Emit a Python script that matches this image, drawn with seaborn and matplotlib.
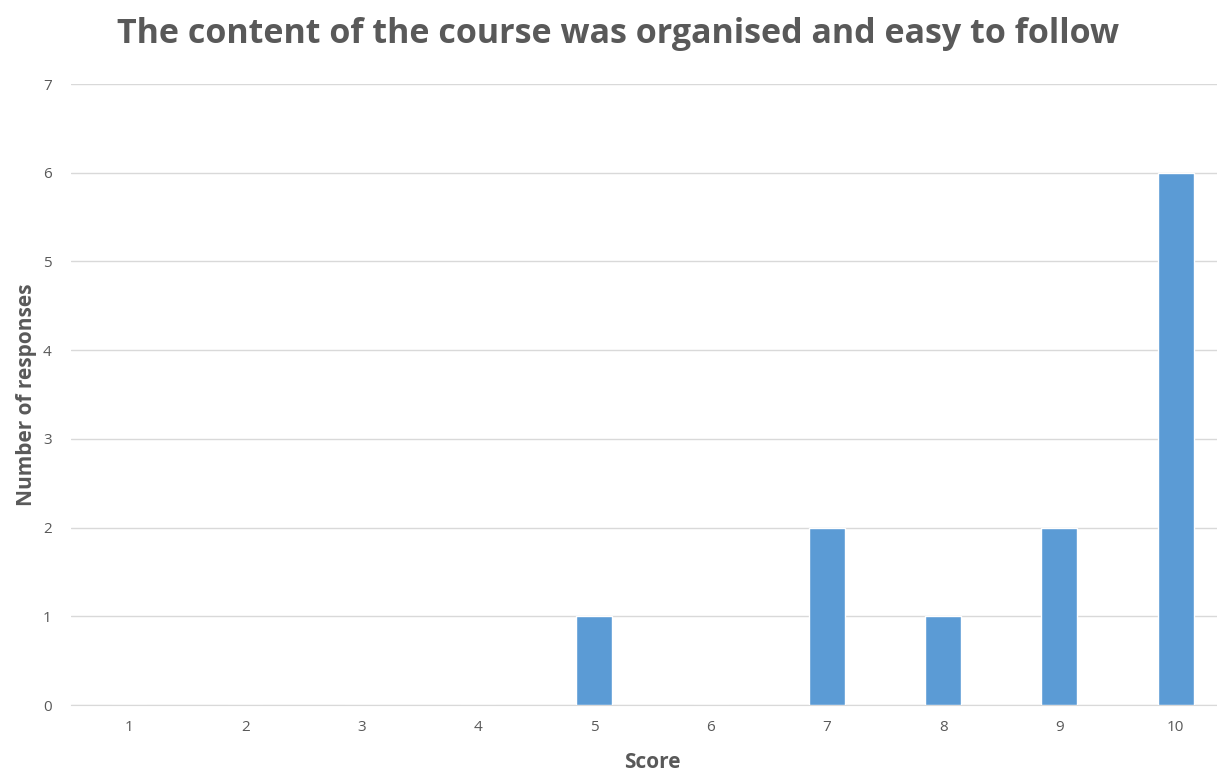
import matplotlib
matplotlib.use("Agg")
import matplotlib.pyplot as plt
import seaborn as sns
import pandas as pd

scores = ["1", "2", "3", "4", "5", "6", "7", "8", "9", "10"]
responses = [0, 0, 0, 0, 1, 0, 2, 1, 2, 6]

sns.set_style("white")
plt.rcParams["font.family"] = ["Open Sans", "DejaVu Sans"]

df = pd.DataFrame({"score": scores, "responses": responses})

fig = plt.figure(figsize=(12.17, 7.75), dpi=100)
ax = fig.add_axes([0.0583, 0.0903, 0.9556, 0.8013])

sns.barplot(data=df, x="score", y="responses", color="#5B9BD5", width=0.31,
            saturation=1, ax=ax, zorder=3)

ax.set_ylim(0, 7)
ax.set_yticks(range(0, 8))
ax.yaxis.grid(True, color="#D9D9D9", linewidth=1, zorder=0)
ax.xaxis.grid(False)
for s in ["top", "right", "left"]:
    ax.spines[s].set_visible(False)
ax.spines["bottom"].set_color("#D9D9D9")
ax.tick_params(axis="both", length=0, labelsize=11, colors="#595959", pad=11)
ax.tick_params(axis="y", pad=14)

ax.set_xlabel("Score", fontsize=15, fontweight="bold", color="#595959", labelpad=12)
ax.set_ylabel("Number of responses", fontsize=15, fontweight="bold", color="#595959", labelpad=4)
fig.text(0.508, 0.956, "The content of the course was organised and easy to follow",
         ha="center", va="center", fontsize=24.5, fontweight="bold", color="#595959")

fig.savefig("out.png", dpi=100)
